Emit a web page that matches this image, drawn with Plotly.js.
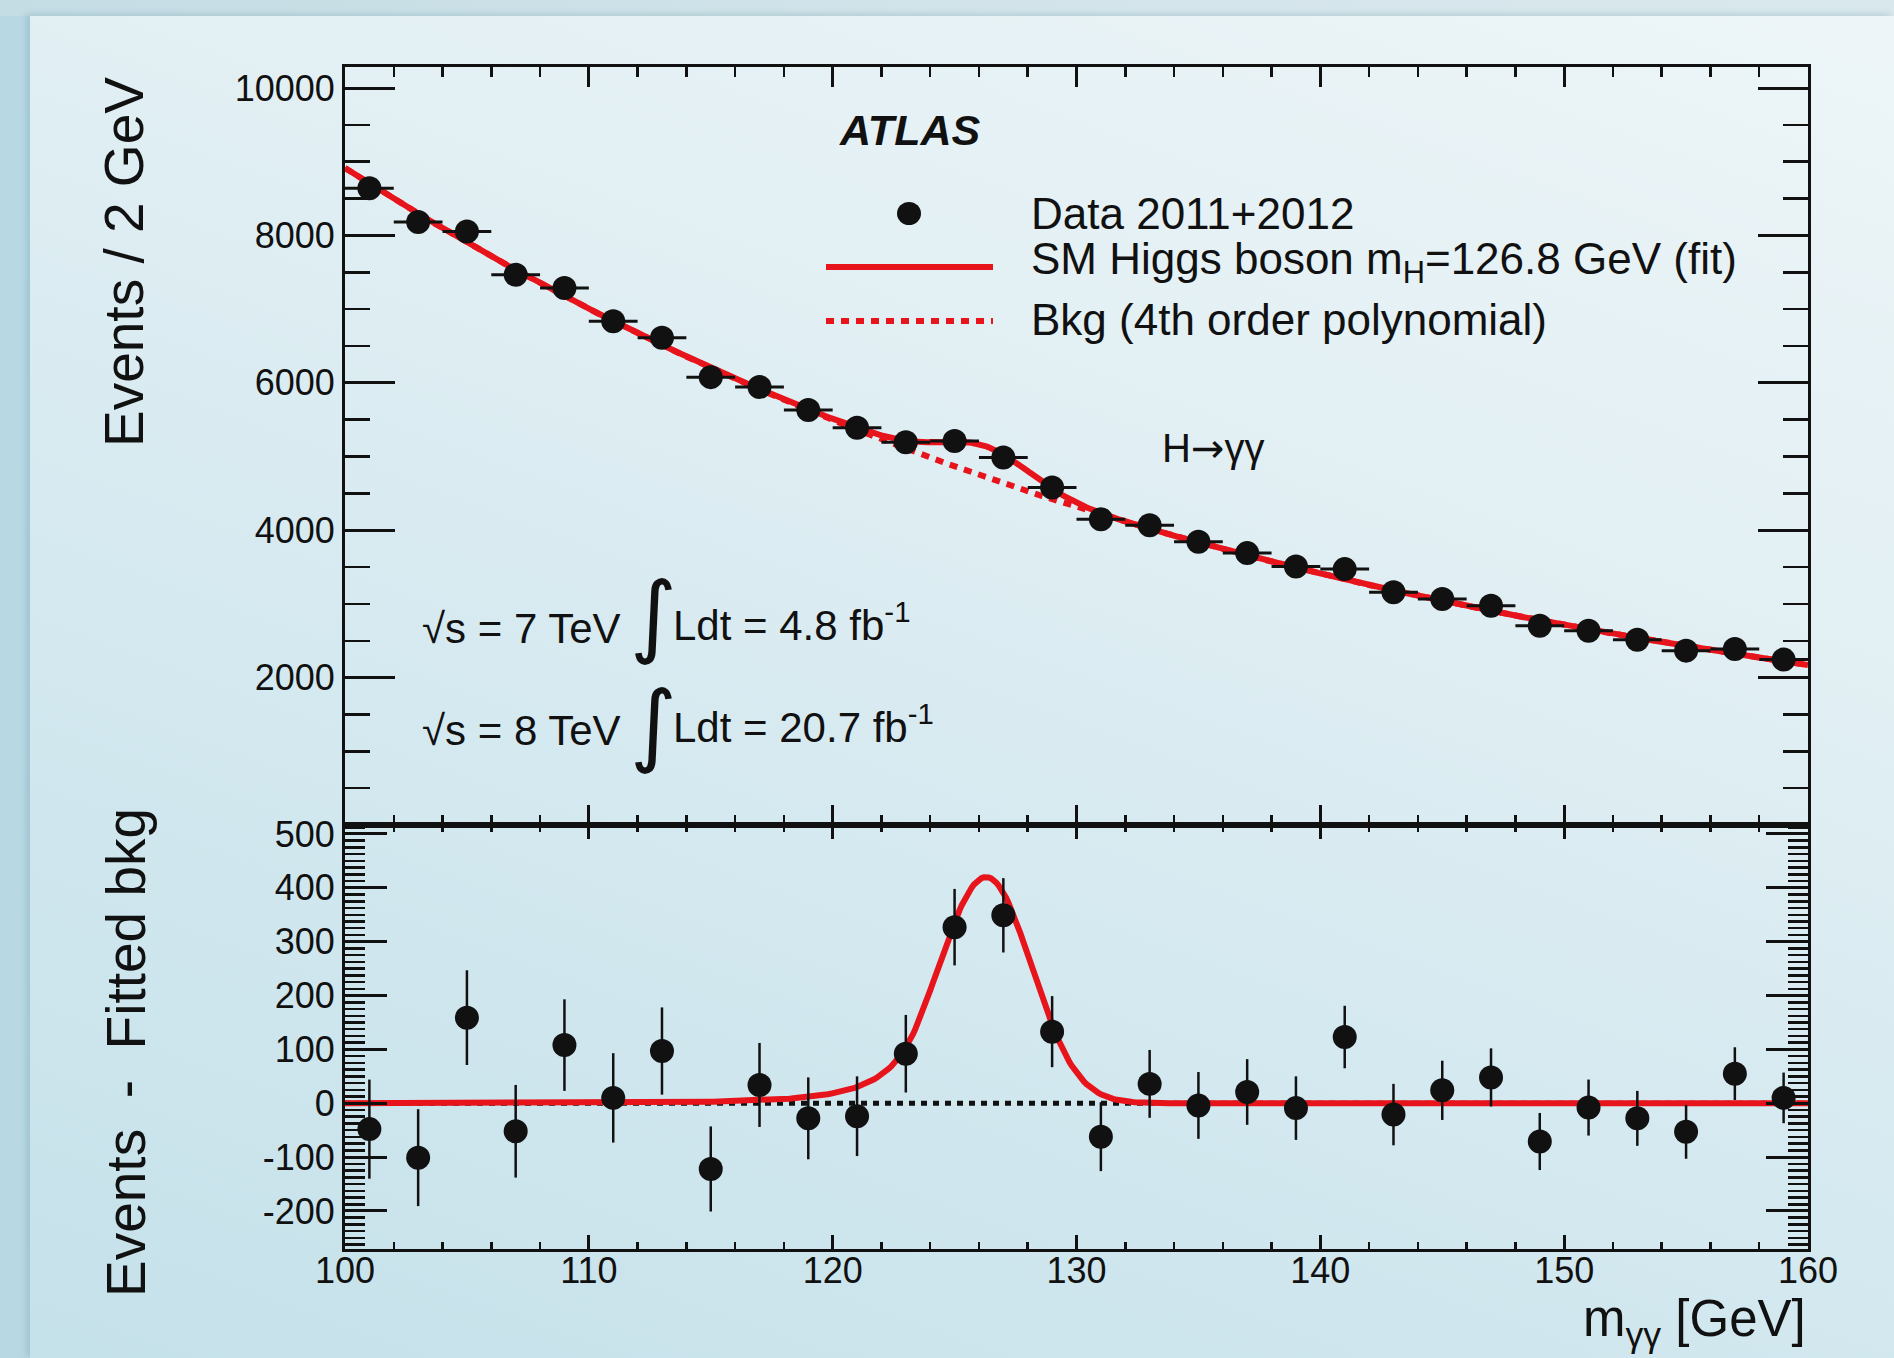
<!DOCTYPE html>
<html>
<head>
<meta charset="utf-8">
<script src="https://cdn.plot.ly/plotly-3.0.1.min.js"></script>
<style>
  html, body { margin:0; padding:0; }
  body { width:1894px; height:1358px; position:relative; overflow:hidden; background:#b8d9e4; }
  #topband { position:absolute; left:0; top:0; width:1894px; height:16px; background:linear-gradient(to right,#c4dce4,#d4e5eb 60%,#d9e8ed); }
  #panel { position:absolute; left:30px; top:16px; right:0; bottom:0;
           background:linear-gradient(20deg,#c5e1ea 0%,#d5e9f0 40%,#e3f0f4 70%,#edf5f8 100%);
           box-shadow: -4px -2px 6px rgba(120,160,175,0.35); }
  #chart { position:absolute; left:0; top:0; width:1894px; height:1358px; }
</style>
</head>
<body>
<div id="topband"></div>
<div id="panel"></div>
<div id="chart"></div>
<script>
// ---------------- data ----------------
const massBins = [101,103,105,107,109,111,113,115,117,119,121,123,125,127,129,
                  131,133,135,137,139,141,143,145,147,149,151,153,155,157,159];
const eventsData = [8641,8181,8054,7467,7287,6835,6610,6077,5944,5630,5390,5193,5210,4985,4578,
                    4150,4068,3842,3689,3509,3472,3157,3066,2975,2704,2637,2515,2366,2389,2244];
const dataErr = [92,90,88,86,85,83,81,79,78,76,74,72,71,69,66,
                 64,63,62,61,59,58,57,55,54,53,52,51,50,49,47];
const residuals = [-48,-101,159,-52,108,10,97,-122,34,-28,-24,92,327,349,133,
                   -62,36,-4,21,-9,123,-21,24,48,-71,-8,-28,-53,55,10];
const binHalfWidth = 1; // GeV (Events / 2 GeV)

// fit model
const bkgPivot = 130;
const bkgCoef = [4316, -103.08, 1.359, -0.01032, 4.2e-6];   // 4th order polynomial in (m - 130)
const sigPeak = 420, sigMean = 126.3, sigSigmaLow = 1.95, sigSigmaHigh = 1.85;
const cbAlpha = 1.5, cbN = 4;
const massRange = [100, 160];

const xTickVals = [100,110,120,130,140,150,160];
const yTickVals = [2000,4000,6000,8000,10000];
const resTickVals = [-200,-100,0,100,200,300,400,500];
const resTickText = ['-200','-100','0','100','200','300','400','500'];

// ---------------- model evaluation ----------------
function bkg(m){ const u=m-bkgPivot; let s=0; for(let i=bkgCoef.length-1;i>=0;i--) s=s*u+bkgCoef[i]; return s; }
function sig(m){
  if (m >= sigMean) { const t=(m-sigMean)/sigSigmaHigh; return sigPeak*Math.exp(-0.5*t*t); }
  const t=(m-sigMean)/sigSigmaLow;
  if (t > -cbAlpha) return sigPeak*Math.exp(-0.5*t*t);
  const A=Math.pow(cbN/cbAlpha,cbN)*Math.exp(-0.5*cbAlpha*cbAlpha), B=cbN/cbAlpha-cbAlpha;
  return sigPeak*A*Math.pow(B-t,-cbN);
}
const curveM=[], curveBkg=[], curveTot=[], curveSig=[], curveZero=[];
for (let k=0;k<=600;k++){ const m=massRange[0]+k*(massRange[1]-massRange[0])/600;
  curveM.push(m); curveBkg.push(bkg(m)); curveSig.push(sig(m)); curveTot.push(bkg(m)+sig(m)); curveZero.push(bkg(m)-bkg(m)); }

// ---------------- styling ----------------
const RED='#e8141b', INK='#111111', FONT='"Liberation Sans", Arial, Helvetica, sans-serif';
const L=345, T=67, W=1463, H=1182;
const fx = px => (px-L)/W, fy = py => (T+H-py)/H;
const split = fy(825);

const traces = [
  {x:curveM, y:curveBkg, xaxis:'x', yaxis:'y', mode:'lines', line:{color:RED,width:6,dash:'8px,7px'}, hoverinfo:'skip'},
  {x:curveM, y:curveTot, xaxis:'x', yaxis:'y', mode:'lines', line:{color:RED,width:6}, hoverinfo:'skip'},
  {x:massBins, y:eventsData, xaxis:'x', yaxis:'y', mode:'markers', marker:{color:INK,size:24},
   error_x:{type:'constant', value:binHalfWidth, thickness:3, width:0, color:INK},
   error_y:{type:'data', array:dataErr, thickness:3, width:0, color:INK}},
  {x:curveM, y:curveZero, xaxis:'x2', yaxis:'y2', mode:'lines', line:{color:INK,width:5,dash:'6px,6px'}, hoverinfo:'skip'},
  {x:curveM, y:curveSig, xaxis:'x2', yaxis:'y2', mode:'lines', line:{color:RED,width:6}, hoverinfo:'skip'},
  {x:massBins, y:residuals, xaxis:'x2', yaxis:'y2', mode:'markers', marker:{color:INK,size:24},
   error_y:{type:'data', array:dataErr, thickness:2.5, width:0, color:INK}}
];

const axBase = {showline:true, linewidth:3, linecolor:INK, mirror:'allticks', ticks:'inside',
  tickcolor:INK, tickwidth:3, showgrid:false, zeroline:false, tickfont:{family:FONT,size:36,color:INK}};

const layout = {
  width:1894, height:1358, showlegend:false,
  paper_bgcolor:'rgba(0,0,0,0)', plot_bgcolor:'rgba(0,0,0,0)',
  margin:{l:L, r:1894-L-W, t:T, b:1358-T-H, pad:0},
  font:{family:FONT, color:INK},
  xaxis: Object.assign({}, axBase, {domain:[0,1], anchor:'y', range:massRange, showticklabels:false,
    tickmode:'array', tickvals:xTickVals, ticklen:20,
    minor:{ticks:'inside', ticklen:10, tickwidth:2.5, tickcolor:INK, tickmode:'linear', tick0:100, dtick:2}}),
  yaxis: Object.assign({}, axBase, {domain:[split,1], anchor:'x', range:[0,10285],
    tickmode:'array', tickvals:yTickVals, tickformat:'d', ticklen:50, ticklabelstandoff:0,
    minor:{ticks:'inside', ticklen:25, tickwidth:2.5, tickcolor:INK, tickmode:'linear', tick0:0, dtick:500}}),
  xaxis2: Object.assign({}, axBase, {domain:[0,1], anchor:'y2', range:massRange,
    tickmode:'array', tickvals:xTickVals, ticklen:14, ticklabelstandoff:-12,
    minor:{ticks:'inside', ticklen:7, tickwidth:2.5, tickcolor:INK, tickmode:'linear', tick0:100, dtick:2}}),
  yaxis2: Object.assign({}, axBase, {domain:[0,split], anchor:'x2', range:[-270.6,516.7],
    tickmode:'array', tickvals:resTickVals, ticktext:resTickText, ticklen:42, ticklabelstandoff:0,
    minor:{ticks:'inside', ticklen:20, tickwidth:2.5, tickcolor:INK, tickmode:'linear', tick0:0, dtick:12.5}}),
  annotations: [
    {text:'Events / 2 GeV', xref:'paper', yref:'paper', x:fx(124), y:fy(262), textangle:-90,
     xanchor:'center', yanchor:'middle', showarrow:false, font:{size:55,family:FONT,color:INK}},
    {text:'Events\u00a0 -\u00a0 Fitted bkg', xref:'paper', yref:'paper', x:fx(126), y:fy(1052), textangle:-90,
     xanchor:'center', yanchor:'middle', showarrow:false, font:{size:55,family:FONT,color:INK}},
    {text:'m<sub>γγ</sub> [GeV]', xref:'paper', yref:'paper', x:fx(1808), y:fy(1322),
     xanchor:'right', yanchor:'middle', showarrow:false, font:{size:51,family:FONT,color:INK}},
    {text:'<b><i>ATLAS</i></b>', xref:'paper', yref:'paper', x:fx(837), y:fy(130),
     xanchor:'left', yanchor:'middle', showarrow:false, font:{size:43,family:FONT,color:INK}},
    {text:'Data 2011+2012', xref:'paper', yref:'paper', x:fx(1029), y:fy(213),
     xanchor:'left', yanchor:'middle', showarrow:false, font:{size:44,family:FONT,color:INK}},
    {text:'SM Higgs boson m<sub>H</sub>=126.8 GeV (fit)', xref:'paper', yref:'paper', x:fx(1029), y:fy(262),
     xanchor:'left', yanchor:'middle', showarrow:false, font:{size:44,family:FONT,color:INK}},
    {text:'Bkg (4th order polynomial)', xref:'paper', yref:'paper', x:fx(1029), y:fy(319),
     xanchor:'left', yanchor:'middle', showarrow:false, font:{size:44,family:FONT,color:INK}},
    {text:'H<span style="font-family:DejaVu Sans">→</span>γγ', xref:'paper', yref:'paper', x:fx(1160), y:fy(448),
     xanchor:'left', yanchor:'middle', showarrow:false, font:{size:40,family:FONT,color:INK}},
    {text:'√s = 7 TeV', xref:'paper', yref:'paper', x:fx(420), y:fy(628),
     xanchor:'left', yanchor:'middle', showarrow:false, font:{size:42,family:FONT,color:INK}},
    {text:'∫', xref:'paper', yref:'paper', x:fx(653), y:fy(614),
     xanchor:'center', yanchor:'middle', showarrow:false, font:{size:90,family:'"DejaVu Sans", sans-serif',color:INK}},
    {text:'Ldt = 4.8 fb<sup>-1</sup>', xref:'paper', yref:'paper', x:fx(671), y:fy(622),
     xanchor:'left', yanchor:'middle', showarrow:false, font:{size:42,family:FONT,color:INK}},
    {text:'√s = 8 TeV', xref:'paper', yref:'paper', x:fx(420), y:fy(730),
     xanchor:'left', yanchor:'middle', showarrow:false, font:{size:42,family:FONT,color:INK}},
    {text:'∫', xref:'paper', yref:'paper', x:fx(653), y:fy(723),
     xanchor:'center', yanchor:'middle', showarrow:false, font:{size:90,family:'"DejaVu Sans", sans-serif',color:INK}},
    {text:'Ldt = 20.7 fb<sup>-1</sup>', xref:'paper', yref:'paper', x:fx(671), y:fy(724),
     xanchor:'left', yanchor:'middle', showarrow:false, font:{size:42,family:FONT,color:INK}}
  ],
  shapes: [
    {type:'circle', xref:'paper', yref:'paper', x0:fx(897), x1:fx(921), y0:fy(225), y1:fy(202),
     fillcolor:INK, line:{width:0}},
    {type:'line', xref:'paper', yref:'paper', x0:fx(826), x1:fx(993), y0:fy(267), y1:fy(267),
     line:{color:RED, width:6}},
    {type:'line', xref:'paper', yref:'paper', x0:fx(826), x1:fx(993), y0:fy(321), y1:fy(321),
     line:{color:RED, width:6, dash:'8px,7px'}}
  ]
};

Plotly.newPlot('chart', traces, layout, {displayModeBar:false, staticPlot:true});
</script>
</body>
</html>
